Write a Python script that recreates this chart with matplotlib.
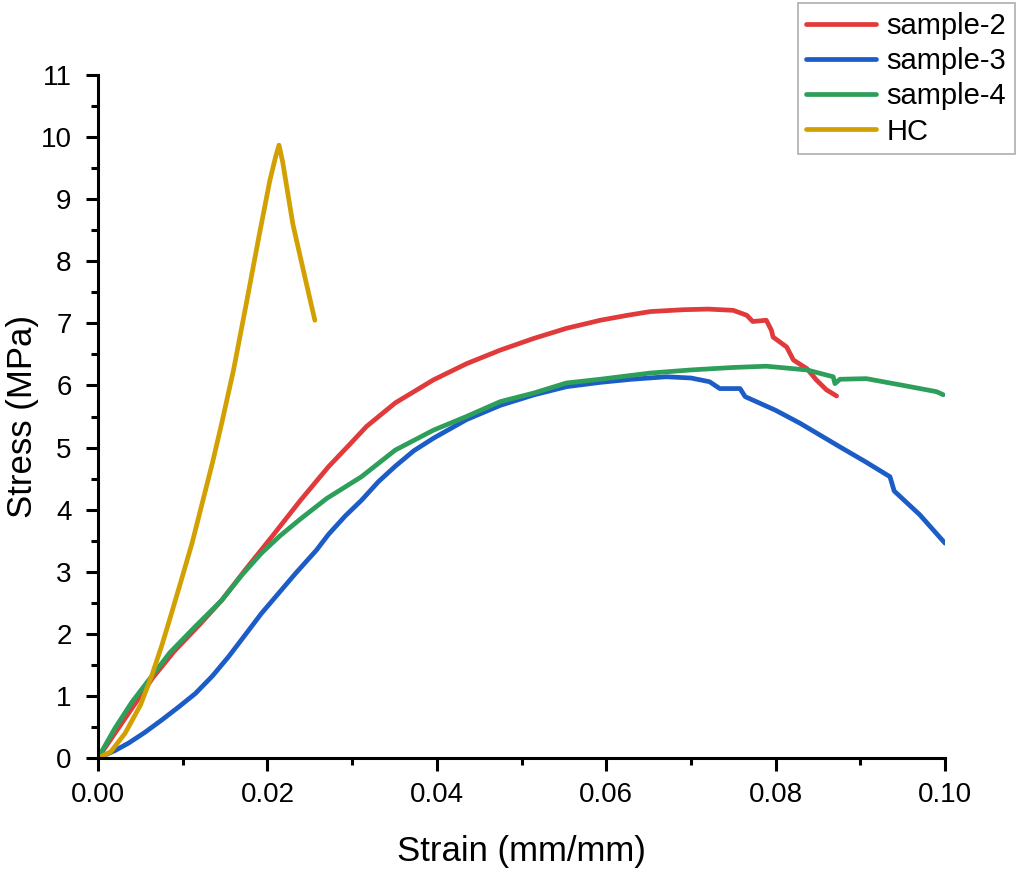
import numpy as np
import matplotlib.pyplot as plt
from matplotlib.ticker import MultipleLocator

plt.rcParams['font.family'] = ['Liberation Sans', 'DejaVu Sans']

# sample-2 (red)
s2_strain = [0.0, 0.0020, 0.0040, 0.0065, 0.0090, 0.0120, 0.0146, 0.0175, 0.0205, 0.0239,
             0.0272, 0.0295, 0.0317, 0.0351, 0.0396, 0.0435, 0.0475, 0.0515, 0.0553, 0.0593,
             0.0625, 0.0652, 0.0691, 0.0720, 0.0750, 0.0766, 0.0773, 0.0789, 0.0795, 0.0797,
             0.0813, 0.0821, 0.0837, 0.0848, 0.0860, 0.0872]
s2_stress = [0.0, 0.40, 0.80, 1.30, 1.72, 2.15, 2.54, 3.05, 3.56, 4.15,
             4.69, 5.02, 5.34, 5.72, 6.09, 6.35, 6.57, 6.76, 6.92, 7.05,
             7.13, 7.19, 7.22, 7.23, 7.21, 7.13, 7.03, 7.05, 6.89, 6.78,
             6.62, 6.41, 6.27, 6.09, 5.93, 5.83]

# sample-3 (blue)
s3_strain = [0.0, 0.0020, 0.0036, 0.0055, 0.0075, 0.0095, 0.0115, 0.0135, 0.0154, 0.0173,
             0.0193, 0.0213, 0.0233, 0.0258, 0.0272, 0.0292, 0.0311, 0.0331, 0.0351, 0.0373,
             0.0396, 0.0435, 0.0475, 0.0515, 0.0553, 0.0593, 0.0630, 0.0671, 0.0700, 0.0722,
             0.0734, 0.0758, 0.0764, 0.0800, 0.0829, 0.0855, 0.0876, 0.0905, 0.0935, 0.0940,
             0.0970, 0.1000]
s3_stress = [0.0, 0.12, 0.24, 0.41, 0.61, 0.82, 1.04, 1.32, 1.63, 1.97,
             2.33, 2.65, 2.97, 3.35, 3.60, 3.90, 4.15, 4.45, 4.70, 4.95,
             5.15, 5.45, 5.68, 5.85, 5.98, 6.05, 6.10, 6.14, 6.12, 6.06,
             5.95, 5.95, 5.82, 5.60, 5.39, 5.18, 5.01, 4.78, 4.53, 4.30,
             3.92, 3.46]

# sample-4 (green)
s4_strain = [0.0, 0.0020, 0.0040, 0.0063, 0.0085, 0.0115, 0.0146, 0.0170, 0.0193, 0.0215,
             0.0239, 0.0270, 0.0311, 0.0351, 0.0396, 0.0435, 0.0475, 0.0515, 0.0553, 0.0593,
             0.0652, 0.0700, 0.0750, 0.0789, 0.0837, 0.0868, 0.0870, 0.0876, 0.0907, 0.0947,
             0.0990, 0.0998]
s4_stress = [0.0, 0.48, 0.90, 1.31, 1.70, 2.12, 2.54, 2.95, 3.30, 3.58,
             3.85, 4.18, 4.53, 4.96, 5.28, 5.50, 5.74, 5.88, 6.04, 6.10,
             6.20, 6.25, 6.29, 6.31, 6.25, 6.14, 6.03, 6.10, 6.11, 6.01,
             5.90, 5.85]

# HC (gold)
hc_strain = [0.0, 0.0015, 0.0032, 0.0050, 0.0063, 0.0075, 0.0085, 0.0098, 0.0111, 0.0122,
             0.0135, 0.0146, 0.0160, 0.01755, 0.0190, 0.0203, 0.0210, 0.02137, 0.0218, 0.0230,
             0.0245, 0.0256]
hc_stress = [0.0, 0.10, 0.40, 0.85, 1.31, 1.80, 2.25, 2.85, 3.46, 4.05,
             4.75, 5.39, 6.25, 7.35, 8.40, 9.31, 9.70, 9.87, 9.60, 8.60,
             7.70, 7.05]

fig = plt.figure(figsize=(10.2, 8.72), dpi=100)
ax = fig.add_axes([0.0961, 0.1307, 0.8304, 0.7833])

lw = 3.4
ax.plot(s2_strain, s2_stress, color='#E03A3A', lw=lw, label='sample-2', solid_capstyle='round')
ax.plot(s3_strain, s3_stress, color='#1C5CC6', lw=lw, label='sample-3', solid_capstyle='round')
ax.plot(s4_strain, s4_stress, color='#2E9E5B', lw=lw, label='sample-4', solid_capstyle='round')
ax.plot(hc_strain, hc_stress, color='#D2A000', lw=lw, label='HC', solid_capstyle='round')

ax.set_xlim(0, 0.10)
ax.set_ylim(0, 11)
ax.xaxis.set_major_locator(MultipleLocator(0.02))
ax.xaxis.set_minor_locator(MultipleLocator(0.01))
ax.yaxis.set_major_locator(MultipleLocator(1))
ax.yaxis.set_minor_locator(MultipleLocator(0.5))
ax.xaxis.set_major_formatter(plt.FormatStrFormatter('%.2f'))

for side in ['top', 'right']:
    ax.spines[side].set_visible(False)
for side in ['left', 'bottom']:
    ax.spines[side].set_linewidth(2.2)

ax.tick_params(which='major', direction='out', length=9, width=2.2, labelsize=20)
ax.tick_params(axis='x', which='major', pad=8)
ax.tick_params(axis='y', which='major', pad=10)
ax.tick_params(which='minor', direction='out', length=5, width=2.2)

ax.set_xlabel('Strain (mm/mm)', fontsize=25, labelpad=20)
ax.set_ylabel('Stress (MPa)', fontsize=25, labelpad=1)

leg = ax.legend(loc='upper right', bbox_to_anchor=(1015 / 1020, 1 - 3 / 872),
                bbox_transform=fig.transFigure, fontsize=21, frameon=True, fancybox=False,
                handlelength=2.4, handletextpad=0.35, borderpad=0.3, labelspacing=0.25,
                borderaxespad=0)
leg.get_frame().set_edgecolor('#999999')
leg.get_frame().set_linewidth(1.2)

fig.savefig('out.png', dpi=100)
